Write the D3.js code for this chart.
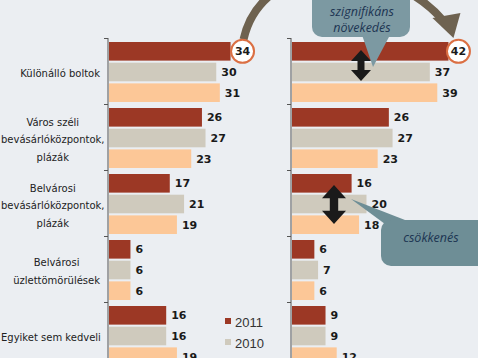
<!DOCTYPE html>
<html lang="hu">
<head>
<meta charset="utf-8">
<title>Vásárlási helyek</title>
<script src="https://d3js.org/d3.v7.min.js"></script>
<style>
body{ margin:0; background:#ebeef2; }
svg{ display:block; }
.cat text{ font:10px "DejaVu Sans", sans-serif; fill:#222; }
.val{ font:bold 11px "DejaVu Sans", sans-serif; fill:#1a1a1a; }
.bubble text{ font:italic 12.5px "Open Sans", sans-serif; fill:#1c3552; text-anchor:middle; }
.legend text{ font:13px "Liberation Sans", sans-serif; fill:#333; }
</style>
</head>
<body>
<div id="chart"></div>
<script>
// data
var categories = [
  ["Különálló boltok"],
  ["Város széli", "bevásárlóközpontok,", "plázák"],
  ["Belvárosi", "bevásárlóközpontok,", "plázák"],
  ["Belvárosi", "üzlettömörülések"],
  ["Egyiket sem kedveli"]
];
var years = ["2011", "2010", "2009"];
var left2011 = [34, 26, 17, 6, 16];
var left2010 = [30, 27, 21, 6, 16];
var left2009 = [31, 23, 19, 6, 19];
var right2011 = [42, 26, 16, 6, 9];
var right2010 = [37, 27, 20, 7, 9];
var right2009 = [39, 23, 18, 6, 12];

var colors = {"2011": "#9c3825", "2010": "#cfcabd", "2009": "#fcc797"};

var W = 478, H = 358;
var svg = d3.select("#chart").append("svg").attr("width", W).attr("height", H);

var y = d3.scaleBand().domain(d3.range(categories.length)).range([38, 38 + 66 * 5]);
var yy = d3.scaleBand().domain(years).range([4, 64]).paddingInner(0.1);

var panels = [
  {x0: 108, len: 143, series: [left2011, left2010, left2009], circled: 0},
  {x0: 291, len: 149, series: [right2011, right2010, right2009], circled: 0}
];

panels.forEach(function(p) {
  var x = d3.scaleLinear().domain([0, 40]).range([p.x0 + 1, p.x0 + 1 + p.len]);
  p.x = x;
  var g = svg.append("g");

  // axis with small ticks between categories
  g.append("g")
    .attr("transform", "translate(" + p.x0 + ",0)")
    .call(d3.axisLeft(d3.scaleLinear().domain([0, 5]).range([38, 368])).ticks(5).tickSize(4).tickFormat(""))
    .call(function(a) {
      a.select(".domain").attr("stroke", "#555").attr("d", "M0,38V368");
      a.selectAll("line").attr("stroke", "#555");
    });

  categories.forEach(function(c, i) {
    years.forEach(function(yr, k) {
      var v = p.series[k][i];
      var by = y(i) + yy(yr);
      g.append("rect")
        .attr("x", x(0)).attr("y", by)
        .attr("width", x(v) - x(0)).attr("height", yy.bandwidth())
        .attr("fill", colors[yr]);
      if (!(k === 0 && i === p.circled)) {
        g.append("text").attr("class", "val")
          .attr("x", x(v) + 5).attr("y", by + yy.bandwidth() / 2 + 4)
          .text(v);
      }
    });
  });
});

// curved arrow between the circled values
var c1x = panels[0].x(left2011[0]) + 12, c2x = panels[1].x(right2011[0]) + 10;
var cy = y(0) + yy("2011") + yy.bandwidth() / 2;
svg.append("path")
  .attr("d", "M" + (c1x + 1) + "," + (cy - 12) + " C" + (c1x + 20) + ",-45 " + (c2x - 70) + ",-45 " + (c2x - 14) + ",22")
  .attr("fill", "none").attr("stroke", "#6e6250").attr("stroke-width", 8);
svg.append("path")
  .attr("d", "M" + (c2x - 26) + "," + 18 + " L" + (c2x + 2) + "," + 13 + " L" + (c2x - 5) + "," + 38 + "Z")
  .attr("fill", "#6e6250");

[[c1x, left2011[0]], [c2x, right2011[0]]].forEach(function(c) {
  svg.append("circle").attr("cx", c[0]).attr("cy", cy).attr("r", 11.5)
    .attr("fill", "#fff").attr("stroke", "#db6f43").attr("stroke-width", 2);
  svg.append("text").attr("class", "val").attr("x", c[0]).attr("y", cy + 4)
    .attr("text-anchor", "middle").text(c[1]);
});

// category labels: lines centred on each other, widest line ends at x=100
var labels = svg.append("g").attr("class", "cat");
categories.forEach(function(lines, i) {
  var t = labels.append("text").attr("text-anchor", "middle");
  var n = lines.length, lh = 17.5;
  var mid = y(i) + 35;
  var spans = lines.map(function(s, j) {
    return t.append("tspan").attr("x", 0).attr("y", mid + (j - (n - 1) / 2) * lh + 4).text(s);
  });
  var w = d3.max(spans, function(s) { return s.node().getComputedTextLength(); });
  spans.forEach(function(s) { s.attr("x", Math.max(100 - w / 2, w / 2 + 1)); });
});

// double arrows
function dblArrow(cx, y1, y2, hw) {
  var hh = hw * 0.55, sw = hw * 0.35;
  svg.append("path").attr("fill", "#1a1a1a")
    .attr("d", "M" + cx + "," + y1 + " L" + (cx + hw / 2) + "," + (y1 + hh) + " L" + (cx + sw / 2) + "," + (y1 + hh) +
      " L" + (cx + sw / 2) + "," + (y2 - hh) + " L" + (cx + hw / 2) + "," + (y2 - hh) + " L" + cx + "," + y2 +
      " L" + (cx - hw / 2) + "," + (y2 - hh) + " L" + (cx - sw / 2) + "," + (y2 - hh) + " L" + (cx - sw / 2) + "," + (y1 + hh) +
      " L" + (cx - hw / 2) + "," + (y1 + hh) + "Z");
}
dblArrow(361, 50, 81, 20);
dblArrow(334, 185, 224, 24);

// bubbles
var b1 = svg.append("g").attr("class", "bubble");
b1.append("path").attr("fill", "#7c99a2")
  .attr("d", "M362,35 L373,67 L390,35Z");
b1.append("rect").attr("x", 312).attr("y", -12).attr("width", 98).attr("height", 49).attr("rx", 10).attr("fill", "#7c99a2");
b1.append("text").attr("x", 362).attr("y", 16).text("szignifikáns");
b1.append("text").attr("x", 362).attr("y", 32).text("növekedés");

var b2 = svg.append("g").attr("class", "bubble");
b2.append("path").attr("fill", "#6e8e96")
  .attr("d", "M351,199 L385,224 L405,220Z");
b2.append("rect").attr("x", 381).attr("y", 220).attr("width", 110).attr("height", 46).attr("rx", 10).attr("fill", "#6e8e96");
b2.append("text").attr("x", 431).attr("y", 242).text("csökkenés");

// legend
var lg = svg.append("g").attr("class", "legend");
years.forEach(function(yr, k) {
  var ly = 322 + k * 21;
  lg.append("rect").attr("x", 225).attr("y", ly - 4).attr("width", 6).attr("height", 6).attr("fill", colors[yr]);
  lg.append("text").attr("x", 235).attr("y", ly + 5).text(yr);
});
</script>
</body>
</html>
